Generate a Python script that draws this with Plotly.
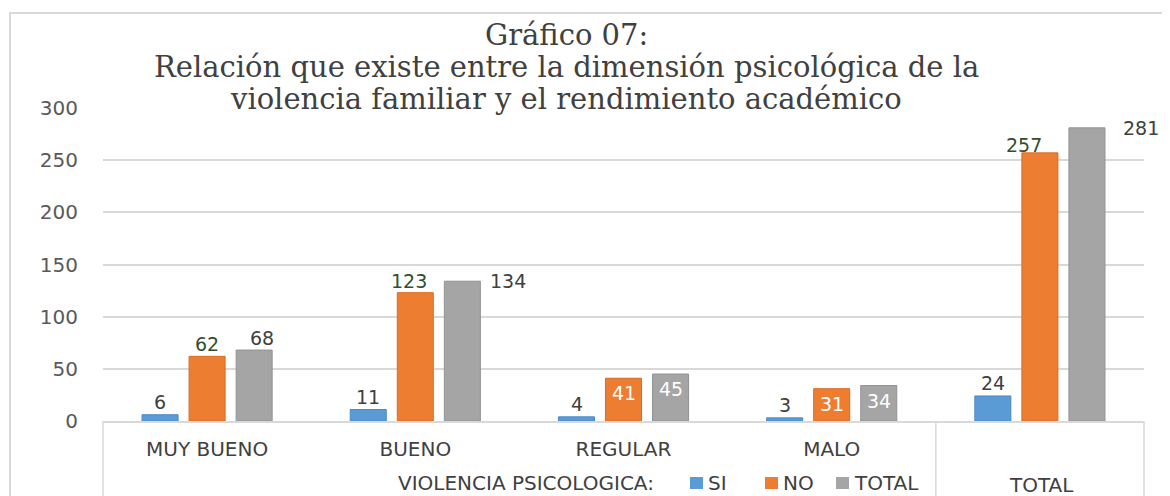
import plotly.graph_objects as go

categories = ["MUY BUENO", "BUENO", "REGULAR", "MALO", "TOTAL"]
series_names = ["SI", "NO", "TOTAL"]
si_values = [6, 11, 4, 3, 24]
no_values = [62, 123, 41, 31, 257]
total_values = [68, 134, 45, 34, 281]
y_ticks = [0, 50, 100, 150, 200, 250, 300]
title_lines = ["Gráfico 07:",
               "Relación que existe entre la dimensión psicológica de la",
               "violencia familiar y el rendimiento académico"]
group_label = "VIOLENCIA PSICOLOGICA:"
total_label = "TOTAL"

colors = ["#5b9bd5", "#ed7d31", "#a5a5a5"]
line_colors = ["#4a89c4", "#d86d25", "#939393"]
values = [si_values, no_values, total_values]

fig = go.Figure()
for name, vals, c, lc in zip(series_names, values, colors, line_colors):
    fig.add_trace(go.Bar(name=name, x=categories, y=vals, showlegend=False,
                         marker=dict(color=c, line=dict(color=lc, width=1))))

LABEL_SIZE = 19
TICK_SIZE = 20
# label styling: (xshift px relative to bar center, yshift px, color)
bar_off = [-47, 0, 47]
label_style = {
    0: [(0, 13, "#404040")] * 5,
    1: [(0, 12, "#2f4f2f"), (-6, 12, "#2f4f2f"), (0, -15, "white"),
        (0, -15, "white"), (-16, 8, "#2f4f2f")],
    2: [(8, 12, "#404040"), (46, 0, "#404040"), (0, -15, "white"),
        (0, -15, "white"), (54, 0, "#404040")],
}
for s, vals in enumerate(values):
    for i, v in enumerate(vals):
        dx, dy, col = label_style[s][i]
        fig.add_annotation(x=categories[i], y=v, xref="x", yref="y", text=str(v),
                           showarrow=False, xshift=bar_off[s] + dx, yshift=dy,
                           xanchor="center",
                           font=dict(family="DejaVu Sans", size=LABEL_SIZE, color=col))

# page has an 8px body margin: figure coords = page coords - 8
OFF = 8
W, H = 1170 - OFF, 496 - OFF
PL, PR, PT, PB = 103, 1144, 108, 421  # plot area in page pixels
L, R, T, B = PL - OFF, W - (PR - OFF), PT - OFF, H - (PB - OFF)
pw, ph = W - L - R, H - T - B

def px(x):
    return (x - OFF - L) / pw

def py(y):
    return (H - B - (y - OFF)) / ph

for i, line in enumerate(title_lines):
    fig.add_annotation(x=px(566), y=py(35 + 32 * i), xref="paper", yref="paper",
                       text=line, showarrow=False, xanchor="center", yanchor="middle",
                       font=dict(family="DejaVu Serif", size=29, color="#404040"))

BOTTOM_ROW = 483
fig.add_annotation(x=px(526), y=py(BOTTOM_ROW), xref="paper", yref="paper", text=group_label,
                   showarrow=False, xanchor="center", yanchor="middle",
                   font=dict(family="DejaVu Sans", size=TICK_SIZE, color="#404040"))
fig.add_annotation(x=px(1041), y=py(BOTTOM_ROW + 2), xref="paper", yref="paper", text=total_label,
                   showarrow=False, xanchor="center", yanchor="middle",
                   font=dict(family="DejaVu Sans", size=TICK_SIZE, color="#404040"))

# manual legend (swatch + name)
legend_x = [690, 765, 836]
for name, c, lx in zip(series_names, colors, legend_x):
    fig.add_shape(type="rect", xref="paper", yref="paper",
                  x0=px(lx), x1=px(lx + 13), y0=py(BOTTOM_ROW + 6), y1=py(BOTTOM_ROW - 6),
                  fillcolor=c, line=dict(width=0))
    fig.add_annotation(x=px(lx + 16), y=py(BOTTOM_ROW), xref="paper", yref="paper",
                       text=name, showarrow=False, xanchor="left", yanchor="middle",
                       font=dict(family="DejaVu Sans", size=TICK_SIZE, color="#404040"))

# outer border and category dividers
fig.add_shape(type="rect", xref="paper", yref="paper", x0=px(10), x1=px(1165),
              y0=py(520), y1=py(13), line=dict(color="#d9d9d9", width=2), layer="below")
for xv in [PL, PL + 4 * (PR - PL) / 5, PR]:
    fig.add_shape(type="line", xref="paper", yref="paper", x0=px(xv), x1=px(xv),
                  y0=0, y1=py(520), line=dict(color="#d9d9d9", width=1.5))

fig.update_layout(
    width=W, height=H, margin=dict(l=L, r=R, t=T, b=B, autoexpand=False),
    paper_bgcolor="white", plot_bgcolor="white",
    barmode="group", bargap=0.322, bargroupgap=0.234,
    showlegend=False,
    xaxis=dict(type="category", range=[-0.5, len(categories) - 0.5],
               tickvals=categories[:4], ticktext=categories[:4], showgrid=False,
               showline=True, linecolor="#d9d9d9", linewidth=1.5, ticks="",
               ticklabelstandoff=9, automargin=False,
               tickfont=dict(family="DejaVu Sans", size=TICK_SIZE, color="#404040")),
    yaxis=dict(range=[0, 300], tickvals=y_ticks, showgrid=True, gridcolor="#d9d9d9",
               gridwidth=1.5, zeroline=False, showline=False, ticks="",
               ticklabelstandoff=24, automargin=False,
               tickfont=dict(family="DejaVu Sans", size=TICK_SIZE, color="#595959")),
)
fig.write_html("out.html")
